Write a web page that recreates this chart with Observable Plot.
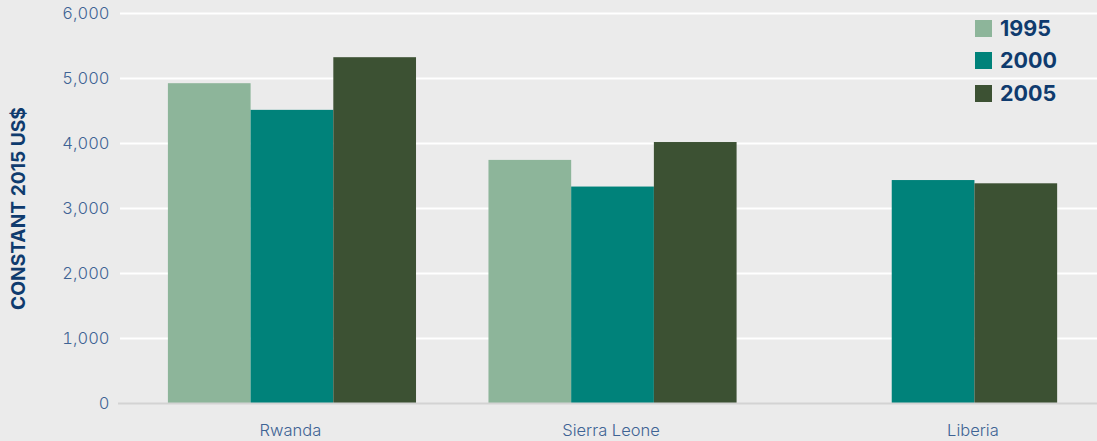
<!DOCTYPE html>
<html>
<head>
<meta charset="utf-8">
<script src="https://cdn.jsdelivr.net/npm/d3@7"></script>
<script src="https://cdn.jsdelivr.net/npm/@observablehq/plot@0.6"></script>
<style>
  html, body { margin: 0; padding: 0; background: #ebebeb; overflow: hidden; }
  #wrap { position: relative; width: 1097px; height: 441px; }
  #wrap > svg { position: absolute; left: 0; top: 0; }
  #legend { position: absolute; left: 975px; top: 12px; font-family: Inter, "Noto Sans", sans-serif; }
  .lg-row { display: flex; align-items: center; height: 32.5px; }
  .lg-sw { width: 17px; height: 17px; margin-right: 8px; }
  .lg-tx { font-size: 21.5px; font-weight: 700; color: #0f3b6e; line-height: 1; }
</style>
</head>
<body>
<div id="wrap"><div id="legend"></div></div>
<script>
const countries = ["Rwanda", "Sierra Leone", "Liberia"];
const years = ["1995", "2000", "2005"];
const v1995 = [4920, 3740, null];
const v2000 = [4510, 3330, 3430];
const v2005 = [5320, 4015, 3380];
const yTicks = [0, 1000, 2000, 3000, 4000, 5000, 6000];
const colors = ["#8db59a", "#00827a", "#3c5133"];
const yTitle = "CONSTANT 2015 US$";

const series = [v1995, v2000, v2005];
const rows = countries.flatMap((c, i) =>
  years.map((yr, j) => ({country: c, year: yr, value: series[j][i]}))
).filter(d => d.value != null);

const frame = {width: 1097, height: 441, marginTop: 13, marginBottom: 38, marginLeft: 118, marginRight: 0};
const yScale = {domain: [0, 6000]};
const tickFont = {fontFamily: "Inter, sans-serif", fontSize: 16.5, fontWeight: 300, fill: "#3e6394"};

// background layer: grid, y axis and title
const back = Plot.plot({
  ...frame,
  style: {background: "#ebebeb", overflow: "visible"},
  y: {...yScale, axis: null},
  marks: [
    Plot.ruleY(yTicks.filter(t => t > 0), {y: d => d, stroke: "#ffffff", strokeWidth: 2, insetLeft: 2}),
    Plot.axisY({ticks: yTicks, tickFormat: d3.format(","), tickSize: 0, tickPadding: 9, label: null, ...tickFont}),
    Plot.text([yTitle], {frameAnchor: "left", textAnchor: "middle", rotate: -90, dx: -100, text: d => d,
      fontFamily: "Inter, sans-serif", fontSize: 19.2, fontWeight: 700, fill: "#0f3b6e"})
  ]
});

function buildFront(bw) {
  const labels = countries.map((c, i) => {
    const present = years.filter((yr, j) => series[j][i] != null);
    const n = present.length;
    return {country: c, year: present[Math.floor(n / 2)], shift: n % 2 === 0 ? -bw / 2 : 0};
  });
  const marks = [
    Plot.barY(rows, {fx: "country", x: "year", y: "value", fill: "year"})
  ];
  labels.forEach(l => {
    marks.push(Plot.text([l], {fx: "country", x: "year", y: () => 0, text: "country", dx: l.shift - 2, dy: 27,
      lineAnchor: "middle", ...tickFont}));
  });
  return Plot.plot({
    ...frame,
    style: {background: "transparent", overflow: "visible"},
    fx: {domain: countries, paddingInner: 0.226, paddingOuter: 0.14, align: 0.556, round: false, axis: null, label: null},
    x: {domain: years, padding: 0, round: false, axis: null},
    y: {...yScale, axis: null},
    color: {domain: years, range: colors},
    marks
  });
}

let front = buildFront(0);
front = buildFront(front.scale("x").bandwidth);

// baseline layer above bars
const base = Plot.plot({
  ...frame,
  style: {background: "transparent", overflow: "visible"},
  y: {...yScale, axis: null},
  marks: [Plot.ruleY([0], {y: d => d, stroke: "#d3d3d3", strokeWidth: 2})]
});

const wrap = document.getElementById("wrap");
wrap.prepend(base);
wrap.prepend(front);
wrap.prepend(back);

const legend = document.getElementById("legend");
years.forEach((yr, i) => {
  const row = document.createElement("div");
  row.className = "lg-row";
  row.innerHTML = `<div class="lg-sw" style="background:${colors[i]}"></div><div class="lg-tx">${yr}</div>`;
  legend.appendChild(row);
});
</script>
</body>
</html>
